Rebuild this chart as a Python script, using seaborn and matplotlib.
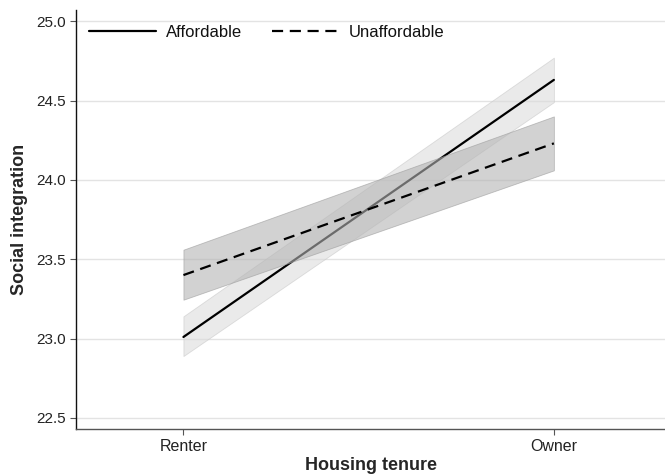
import matplotlib
matplotlib.use("Agg")
import matplotlib.pyplot as plt
import seaborn as sns
import pandas as pd

tenure = ["Renter", "Owner"]
groups = ["Affordable", "Unaffordable"]
afford_mean = [23.01, 24.63]
afford_lo = [22.89, 24.49]
afford_hi = [23.14, 24.77]
unafford_mean = [23.40, 24.23]
unafford_lo = [23.245, 24.06]
unafford_hi = [23.56, 24.40]
yticks = [22.5, 23.0, 23.5, 24.0, 24.5, 25.0]

sns.set_theme(style="white")
plt.rcParams["font.family"] = ["Liberation Sans", "DejaVu Sans"]

pos = list(range(len(tenure)))
df = pd.DataFrame({
    "x": pos * 2,
    "y": afford_mean + unafford_mean,
    "group": [groups[0]] * 2 + [groups[1]] * 2,
})

fig = plt.figure(figsize=(6.65, 4.75), dpi=100)
ax = fig.add_axes([0.1143, 0.0968, 0.8857, 0.882])

# light band under the solid line
ax.fill_between(pos, afford_lo, afford_hi, facecolor="#dcdcdc", alpha=0.6,
                edgecolor="#c8c8c8", linewidth=0.6, zorder=1)
sns.lineplot(data=df[df.group == groups[0]], x="x", y="y", color="black",
             linewidth=1.6, ax=ax, zorder=2, label=groups[0])
# darker band over the solid line
ax.fill_between(pos, unafford_lo, unafford_hi, facecolor="#b4b4b4", alpha=0.6,
                edgecolor="#9a9a9a", linewidth=0.6, zorder=3)
sns.lineplot(data=df[df.group == groups[1]], x="x", y="y", color="black",
             linewidth=1.6, linestyle=(0, (5.0, 3.0)), ax=ax, zorder=4,
             label=groups[1])

ax.set_xlim(-0.29, 1.30)
ax.set_ylim(22.43, 25.07)
ax.set_yticks(yticks)
ax.set_yticklabels([f"{v:.1f}" for v in yticks], fontsize=11, color="#222222")
ax.set_xticks(pos)
ax.set_xticklabels(tenure, fontsize=11.5, color="#222222")
ax.yaxis.grid(True, color="#e3e3e3", linewidth=1.0)
ax.set_axisbelow(True)
ax.tick_params(axis="both", which="major", direction="out", length=4,
               width=0.8, color="#555555", pad=3, left=True, bottom=True)
for s in ["top", "right"]:
    ax.spines[s].set_visible(False)
ax.spines["left"].set_color("#111111")
ax.spines["left"].set_linewidth(1.0)
ax.spines["bottom"].set_color("#555555")
ax.spines["bottom"].set_linewidth(1.0)

ax.set_xlabel("Housing tenure", fontsize=13, fontweight="bold", labelpad=2)
ax.set_ylabel("Social integration", fontsize=13, fontweight="bold", labelpad=6)

leg = ax.legend(loc="center left", ncol=2, frameon=False, fontsize=12,
                handlelength=4.0, columnspacing=1.8, handletextpad=0.6,
                bbox_to_anchor=(0.022, 1 - 0.0525), borderaxespad=0,
                borderpad=0)
for t in leg.get_texts():
    t.set_color("#111111")

fig.savefig("out.png", dpi=100)
